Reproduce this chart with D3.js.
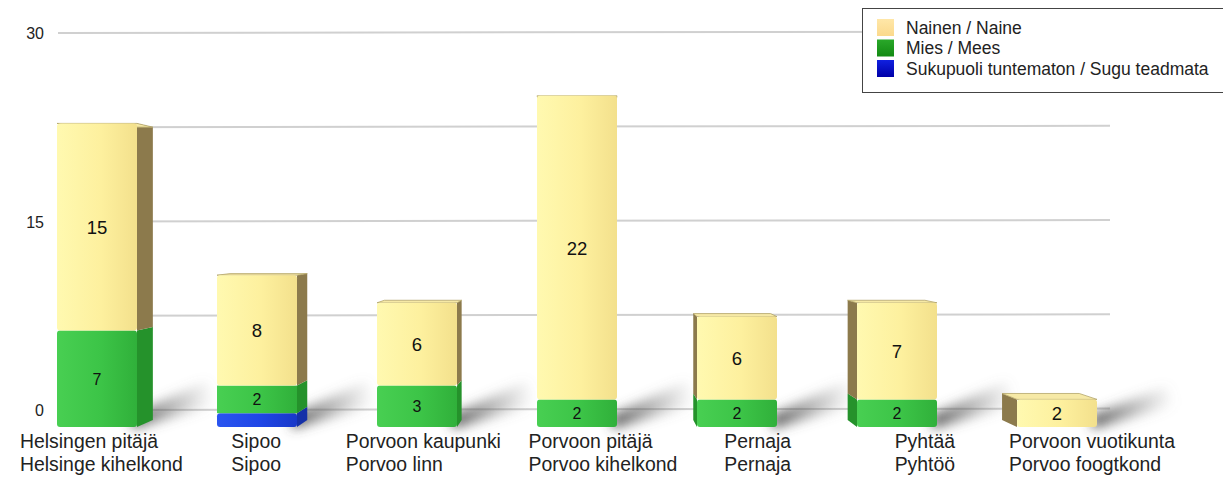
<!DOCTYPE html>
<html>
<head>
<meta charset="utf-8">
<script src="https://cdn.jsdelivr.net/npm/d3@7"></script>
<style>
  html, body { margin: 0; padding: 0; background: #fff; }
  svg { display: block; font-family: "Liberation Sans", Arial, sans-serif; }
</style>
</head>
<body>
<svg id="chart" width="1223" height="477"></svg>
<script>
// Parishes, Finnish / Estonian names
const categoriesFi = ["Helsingen pitäjä", "Sipoo", "Porvoon kaupunki", "Porvoon pitäjä", "Pernaja", "Pyhtää", "Porvoon vuotikunta"];
const categoriesEt = ["Helsinge kihelkond", "Sipoo", "Porvoo linn", "Porvoo kihelkond", "Pernaja", "Pyhtöö", "Porvoo foogtkond"];

// Counts per gender
const nainen     = [15, 8, 6, 22, 6, 7, 2];
const mies       = [7, 2, 3, 2, 2, 2, 0];
const tuntematon = [0, 1, 0, 0, 0, 0, 0];

const seriesNames = ["Nainen / Naine", "Mies / Mees", "Sukupuoli tuntematon / Sugu teadmata"];
const yTicks = [0, 15, 30];
const gridValues = [0, 7.5, 15, 22.5, 30];

const svg = d3.select("#chart");

// Series styling: front gradient stops, side and top face colours
const styles = [
  { key: "nainen", front: ["#fff9b0", "#fdf09e", "#f3e08c"], side: "#8c7a4c", top: "#f6e9a6", legend: ["#ffe7a8", "#fbd98c"] },
  { key: "mies",   front: ["#48cf52", "#3cc447", "#30b03a"], side: "#25922b", top: "#5fd566", legend: ["#2aa82a", "#138a13"] },
  { key: "tuntematon", front: ["#2a55f0", "#1f46e6", "#1838c8"], side: "#1530a8", top: "#4a70f5", legend: ["#1020e0", "#0000a8"] }
];
const values = [nainen, mies, tuntematon];
// stacking from the floor upwards: unknown, men, women
const stackOrder = [2, 1, 0];

// Scales: bars in front, grid on the back wall, labels along the front edge
const x = d3.scaleBand().domain(d3.range(categoriesFi.length)).range([17, 1137]).paddingInner(0.5).paddingOuter(0.25);
const xLabel = d3.scalePoint().domain(d3.range(categoriesFi.length)).range([89, 1092]);
const yFront = d3.scaleLinear().domain([0, 30]).range([427, 13]);
const yBack = d3.scaleLinear().domain([0, 30]).range([410, 33]);

// Perspective: vanishing point and depth scale
const VP = { x: 590, y: 230 }, depthScale = 0.965;
const proj = (px, py) => [VP.x + (px - VP.x) * depthScale, VP.y + (py - VP.y) * depthScale];

const defs = svg.append("defs");
styles.forEach(s => {
  const g = defs.append("linearGradient").attr("id", "front-" + s.key).attr("x1", 0).attr("x2", 1).attr("y1", 0).attr("y2", 0);
  g.append("stop").attr("offset", "0%").attr("stop-color", s.front[0]);
  g.append("stop").attr("offset", "55%").attr("stop-color", s.front[1]);
  g.append("stop").attr("offset", "100%").attr("stop-color", s.front[2]);
  const lg = defs.append("linearGradient").attr("id", "legend-" + s.key).attr("x1", 0).attr("x2", 0).attr("y1", 0).attr("y2", 1);
  lg.append("stop").attr("offset", "0%").attr("stop-color", s.legend[0]);
  lg.append("stop").attr("offset", "100%").attr("stop-color", s.legend[1]);
});
defs.append("filter").attr("id", "soft").attr("x", "-50%").attr("y", "-50%").attr("width", "200%").attr("height", "200%")
  .append("feGaussianBlur").attr("stdDeviation", 6);
defs.append("filter").attr("id", "softline").attr("x", "-5%").attr("y", "-200%").attr("width", "110%").attr("height", "500%")
  .append("feGaussianBlur").attr("stdDeviation", 0.6);
const shadowGrad = defs.append("linearGradient").attr("id", "shadow").attr("x1", 0).attr("x2", 1).attr("y1", 0).attr("y2", 0);
shadowGrad.append("stop").attr("offset", "0%").attr("stop-color", "#444").attr("stop-opacity", 0.9);
shadowGrad.append("stop").attr("offset", "100%").attr("stop-color", "#888").attr("stop-opacity", 0);

// Grid on the back wall
svg.append("g").selectAll("line").data(gridValues).join("line")
  .attr("x1", 58).attr("x2", 1110)
  .attr("y1", d => yBack(d)).attr("y2", d => yBack(d) - 1.5)
  .attr("stroke", "#d0d0d0").attr("stroke-width", 2).attr("filter", "url(#softline)");

// Y-axis tick labels
svg.append("g").selectAll("text").data(yTicks).join("text")
  .attr("x", 44).attr("y", d => yBack(d) + 6)
  .attr("text-anchor", "end").attr("font-size", 16).attr("fill", "#222")
  .text(d => d);

// Stack data
const stacked = categoriesFi.map((c, i) => {
  let acc = 0;
  const segs = [];
  stackOrder.forEach(si => {
    const v = values[si][i];
    if (v > 0) { segs.push({ si, v, y0: acc, y1: acc + v }); }
    acc += v;
  });
  return { i, total: acc, segs };
});

// Floor shadows
const shadows = svg.append("g");
stacked.forEach(d => {
  const x1 = x(d.i) + x.bandwidth();
  const h = Math.min(40, (yFront(0) - yFront(d.total)) * 0.3 + 14);
  shadows.append("path")
    .attr("d", `M${x1 - 5},${yFront(0) - 12} L${x1 + 70},${yFront(0) - 34 - h * 0.3} L${x1 + 78},${yFront(0) - 22} L${x1 - 5},${yFront(0) + 2} Z`)
    .attr("fill", "url(#shadow)").attr("filter", "url(#soft)");
});

// Bars
const bars = svg.append("g");
stacked.forEach(d => {
  const g = bars.append("g");
  const x0 = x(d.i), x1 = x(d.i) + x.bandwidth();
  const nSeg = d.segs.length;
  d.segs.forEach((s, k) => {
    const st = styles[s.si];
    const yT = yFront(s.y1), yB = yFront(s.y0);
    // side face
    if (x1 < VP.x - 20) {
      const [bx, byT] = proj(x1, yT), [, byB] = proj(x1, yB);
      g.append("path").attr("d", `M${x1},${yT} L${bx},${byT} L${bx},${byB} L${x1},${yB} Z`).attr("fill", st.side);
    } else if (x0 > VP.x - 20) {
      const [bx, byT] = proj(x0, yT), [, byB] = proj(x0, yB);
      g.append("path").attr("d", `M${x0},${yT} L${bx},${byT} L${bx},${byB} L${x0},${yB} Z`).attr("fill", st.side);
    }
    // top face on the topmost segment
    if (k === nSeg - 1) {
      const [bx0, by] = proj(x0, yT), [bx1] = proj(x1, yT);
      g.append("path").attr("d", `M${x0},${yT} L${x1},${yT} L${bx1},${by} L${bx0},${by} Z`)
        .attr("fill", st.top).attr("stroke", "#b3a46a").attr("stroke-width", 0.8);
    }
    // front face
    g.append("rect")
      .attr("x", x0).attr("y", yT).attr("width", x1 - x0).attr("height", yB - yT)
      .attr("rx", k === nSeg - 1 || k === 0 ? 3 : 0)
      .attr("fill", `url(#front-${st.key})`);
  });
  // value labels (women and men)
  d.segs.forEach(s => {
    if (s.si === 2) return;
    const big = s.si === 0;
    g.append("text")
      .attr("x", x0 + x.bandwidth() / 2)
      .attr("y", (yFront(s.y0) + yFront(s.y1)) / 2 + (big ? 7 : 6))
      .attr("text-anchor", "middle")
      .attr("font-size", big ? 18.5 : 16)
      .attr("fill", "#111")
      .text(s.v);
  });
});

// Category labels: two lines, left-aligned, first line centred on the label position
const labels = svg.append("g");
categoriesFi.forEach((c, i) => {
  const t = labels.append("text").attr("font-size", 19.4).attr("fill", "#222");
  const l1 = t.append("tspan").attr("y", 448).text(c);
  const l2 = t.append("tspan").attr("y", 471).text(categoriesEt[i]);
  const w = l1.node().getComputedTextLength();
  const left = Math.max(12, xLabel(i) - w / 2);
  l1.attr("x", left); l2.attr("x", left);
});

// Legend
const legend = svg.append("g").attr("transform", "translate(862,8)");
legend.append("rect").attr("x", 0.5).attr("y", 0.5).attr("width", 370).attr("height", 84)
  .attr("fill", "#fff").attr("stroke", "#444").attr("stroke-width", 1);
seriesNames.forEach((n, i) => {
  const row = legend.append("g").attr("transform", `translate(15,${11 + i * 20.5})`);
  row.append("rect").attr("width", 17).attr("height", 17).attr("fill", `url(#legend-${styles[i].key})`);
  row.append("text").attr("x", 29).attr("y", 14.5).attr("font-size", 17.5).attr("fill", "#222").text(n);
});
</script>
</body>
</html>
